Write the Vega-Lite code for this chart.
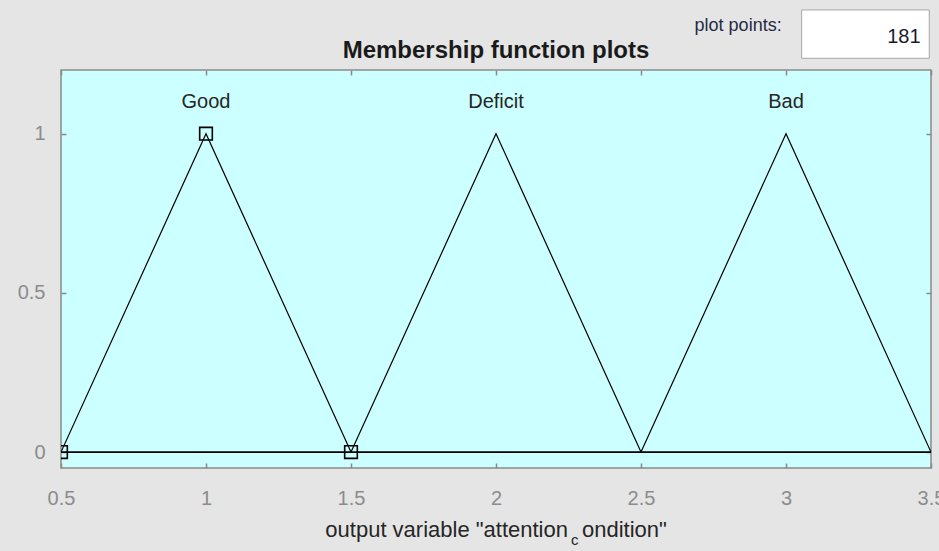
{
  "$schema": "https://vega.github.io/schema/vega-lite/v6.json",
  "width": 870,
  "height": 398,
  "autosize": {"type": "none"},
  "padding": {"left": 61, "top": 70, "right": 8, "bottom": 83},
  "background": "#e5e5e5",
  "config": {
    "view": {"fill": "#ccffff", "stroke": "#8a8a8a", "strokeWidth": 1.5},
    "font": "Liberation Sans"
  },
  "title": {
    "text": "Membership function plots",
    "fontSize": 24,
    "fontWeight": "bold",
    "color": "#1a1a1a",
    "font": "Liberation Sans",
    "offset": -54
  },
  "datasets": {
    "mf": [
      {"mf": "Good", "x": 0.5, "y": 0},
      {"mf": "Good", "x": 1, "y": 1},
      {"mf": "Good", "x": 1.5, "y": 0},
      {"mf": "Deficit", "x": 1.5, "y": 0},
      {"mf": "Deficit", "x": 2, "y": 1},
      {"mf": "Deficit", "x": 2.5, "y": 0},
      {"mf": "Bad", "x": 2.5, "y": 0},
      {"mf": "Bad", "x": 3, "y": 1},
      {"mf": "Bad", "x": 3.5, "y": 0}
    ],
    "labels": [
      {"name": "Good", "peak": 1},
      {"name": "Deficit", "peak": 2},
      {"name": "Bad", "peak": 3}
    ]
  },
  "layer": [
    {
      "data": {"name": "mf"},
      "mark": {"type": "line", "color": "black", "strokeWidth": 1.2, "clip": true},
      "encoding": {
        "x": {
          "field": "x", "type": "quantitative",
          "scale": {"domain": [0.5, 3.5], "nice": false, "zero": false},
          "axis": {
            "orient": "bottom", "values": [0.5, 1, 1.5, 2, 2.5, 3, 3.5], "format": "~g",
            "grid": false, "domain": false, "tickSize": -5, "tickColor": "#8a8a8a", "tickWidth": 1.5,
            "labelPadding": 25, "labelFontSize": 20, "labelColor": "#8c8c8c", "labelFont": "Liberation Sans",
            "labelFlush": false, "labelOverlap": false, "title": null
          }
        },
        "y": {
          "field": "y", "type": "quantitative",
          "scale": {"domain": [-0.05, 1.2], "nice": false, "zero": false},
          "axis": {
            "orient": "left", "values": [0, 0.5, 1], "format": "~g",
            "grid": false, "domain": false, "tickSize": -5, "tickColor": "#8a8a8a", "tickWidth": 1.5,
            "labelPadding": 21, "labelFontSize": 20, "labelColor": "#8c8c8c", "labelFont": "Liberation Sans",
            "labelFlush": false, "labelOverlap": false, "title": null
          }
        },
        "detail": {"field": "mf"}
      }
    },
    {
      "data": {"values": [{}]},
      "mark": {"type": "rule", "color": "black", "strokeWidth": 1.6},
      "encoding": {"y": {"datum": 0, "type": "quantitative", "axis": null}}
    },
    {
      "data": {"name": "mf"},
      "transform": [{"filter": "datum.mf == 'Good'"}],
      "mark": {"type": "point", "shape": "square", "size": 160, "filled": false, "stroke": "black", "strokeWidth": 1.6, "opacity": 1, "clip": true},
      "encoding": {
        "x": {
          "field": "x", "type": "quantitative",
          "axis": {
            "orient": "top", "values": [0.5, 1, 1.5, 2, 2.5, 3, 3.5], "labels": false,
            "grid": false, "domain": false, "tickSize": -5, "tickColor": "#8a8a8a", "tickWidth": 1.5, "title": null
          }
        },
        "y": {
          "field": "y", "type": "quantitative",
          "axis": {
            "orient": "right", "values": [0, 0.5, 1], "labels": false,
            "grid": false, "domain": false, "tickSize": -5, "tickColor": "#8a8a8a", "tickWidth": 1.5, "title": null
          }
        }
      }
    },
    {
      "data": {"name": "labels"},
      "mark": {"type": "text", "fontSize": 20, "color": "#262626", "font": "Liberation Sans", "baseline": "middle", "align": "center"},
      "encoding": {
        "x": {"field": "peak", "type": "quantitative", "axis": null},
        "y": {"datum": 1.1, "type": "quantitative", "axis": null},
        "text": {"field": "name"}
      }
    },
    {
      "data": {"values": [{"t": "output variable \"attention"}]},
      "mark": {"type": "text", "fontSize": 22, "color": "#262626", "font": "Liberation Sans", "baseline": "alphabetic", "align": "right", "dx": -3},
      "encoding": {
        "x": {"datum": 2.2586, "type": "quantitative", "axis": null},
        "y": {"datum": -0.2667, "type": "quantitative", "axis": null},
        "text": {"field": "t"}
      }
    },
    {
      "data": {"values": [{"t": "c"}]},
      "mark": {"type": "text", "fontSize": 15, "color": "#262626", "font": "Liberation Sans", "baseline": "alphabetic", "align": "left", "dy": 8},
      "encoding": {
        "x": {"datum": 2.2586, "type": "quantitative", "axis": null},
        "y": {"datum": -0.2667, "type": "quantitative", "axis": null},
        "text": {"field": "t"}
      }
    },
    {
      "data": {"values": [{"t": "ondition\""}]},
      "mark": {"type": "text", "fontSize": 22, "color": "#262626", "font": "Liberation Sans", "baseline": "alphabetic", "align": "left", "dx": 11},
      "encoding": {
        "x": {"datum": 2.2586, "type": "quantitative", "axis": null},
        "y": {"datum": -0.2667, "type": "quantitative", "axis": null},
        "text": {"field": "t"}
      }
    },
    {
      "data": {"values": [{}]},
      "mark": {"type": "rect", "fill": "white", "stroke": "#a6a6a6", "strokeWidth": 1, "clip": false},
      "encoding": {
        "x": {"datum": 3.054, "type": "quantitative", "axis": null},
        "x2": {"datum": 3.494},
        "y": {"datum": 1.3885, "type": "quantitative", "axis": null},
        "y2": {"datum": 1.2368}
      }
    },
    {
      "data": {"values": [{"t": "181"}]},
      "mark": {"type": "text", "fontSize": 20, "color": "#1a1a2e", "font": "Liberation Sans", "baseline": "middle", "align": "right"},
      "encoding": {
        "x": {"datum": 3.464, "type": "quantitative", "axis": null},
        "y": {"datum": 1.3037, "type": "quantitative", "axis": null},
        "text": {"field": "t"}
      }
    },
    {
      "data": {"values": [{"t": "plot points:"}]},
      "mark": {"type": "text", "fontSize": 18, "color": "#1f2a44", "font": "Liberation Sans", "baseline": "middle", "align": "right"},
      "encoding": {
        "x": {"datum": 2.985, "type": "quantitative", "axis": null},
        "y": {"datum": 1.338, "type": "quantitative", "axis": null},
        "text": {"field": "t"}
      }
    }
  ],
  "resolve": {"axis": {"x": "independent", "y": "independent"}}
}
